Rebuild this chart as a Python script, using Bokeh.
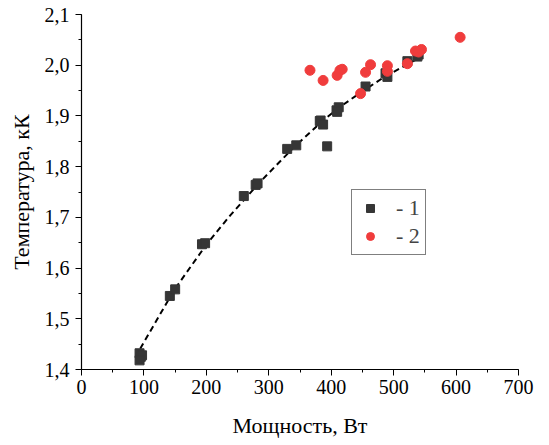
from bokeh.plotting import figure
from bokeh.models import (Range1d, SingleIntervalTicker, Legend, LegendItem,
                          CustomJSTickFormatter)
from bokeh.embed import file_html
from bokeh.resources import INLINE

# Series 1 (black squares)
s1_x = [93, 95, 97, 93, 141.5, 150, 193, 198, 260, 279, 282, 329.5, 344,
        381.7, 383, 387, 393.5, 408.5, 412, 409.5, 455, 487, 490, 522, 538, 540]
s1_y = [1.432, 1.425, 1.428, 1.418, 1.545, 1.558, 1.647, 1.649, 1.742, 1.764, 1.767,
        1.835, 1.842, 1.890, 1.891, 1.883, 1.840, 1.911, 1.917, 1.908, 1.958,
        1.984, 1.977, 2.008, 2.017, 2.021]

# Series 2 (red circles)
s2_x = [366, 387, 409.5, 414, 417.6, 447, 455, 463, 490, 490, 522, 535, 540, 544.6, 606.5]
s2_y = [1.990, 1.970, 1.980, 1.990, 1.992, 1.944, 1.986, 2.001, 1.999, 1.988,
        2.003, 2.028, 2.026, 2.031, 2.055]

# Fit curve (dashed)
fit_x = [94, 148, 201, 239, 287, 340, 386, 412, 447, 484, 527, 543]
fit_y = [1.441, 1.556, 1.648, 1.705, 1.771, 1.838, 1.890, 1.916, 1.946, 1.976, 2.005, 2.016]

FONT = "Liberation Serif"

p = figure(width=549, height=445, output_backend="svg", toolbar_location=None,
           x_range=Range1d(0, 700), y_range=Range1d(1.4, 2.1),
           min_border_left=81, min_border_right=31, min_border_top=14,
           min_border_bottom=76)
p.outline_line_color = None
p.xgrid.visible = False
p.ygrid.visible = False
p.background_fill_color = "white"
p.border_fill_color = "white"

p.line(fit_x, fit_y, line_color="black", line_width=2, line_dash="6 4")
r1 = p.scatter(s1_x, s1_y, marker="square", size=9, fill_color="#363636",
               line_color="#363636")
r2 = p.scatter(s2_x, s2_y, marker="circle", size=10, fill_color="#f03c3c",
               line_color="#f03c3c")

p.xaxis.ticker = SingleIntervalTicker(interval=100, num_minor_ticks=2)
p.yaxis.ticker = SingleIntervalTicker(interval=0.1, num_minor_ticks=2)
p.yaxis.formatter = CustomJSTickFormatter(code="return tick.toFixed(1).replace('.', ',');")

for ax in (p.xaxis[0], p.yaxis[0]):
    ax.axis_line_color = "black"
    ax.axis_line_width = 1.2
    ax.major_tick_in = 0
    ax.major_tick_out = 6
    ax.minor_tick_in = 0
    ax.minor_tick_out = 3
    ax.major_tick_line_color = "black"
    ax.minor_tick_line_color = "black"
    ax.major_label_text_font = FONT
    ax.major_label_text_font_size = "20px"
    ax.major_label_text_color = "black"
    ax.axis_label_text_font = FONT
    ax.axis_label_text_font_size = "22px"
    ax.axis_label_text_font_style = "normal"
    ax.axis_label_text_color = "black"

p.xaxis.axis_label = "Мощность, Вт"
p.yaxis.axis_label = "Температура, кК"
p.xaxis.major_label_standoff = 4
p.yaxis.major_label_standoff = 6
p.xaxis.axis_label_standoff = 16
p.yaxis.axis_label_standoff = 8

legend = Legend(items=[LegendItem(label="- 1", renderers=[r1]),
                       LegendItem(label="- 2", renderers=[r2])],
                location=(270, 114))
legend.label_text_font = FONT
legend.label_text_font_size = "22px"
legend.border_line_color = "black"
legend.border_line_width = 1
legend.glyph_width = 26
legend.glyph_height = 20
legend.label_standoff = 13
legend.padding = 5
legend.spacing = 2
legend.margin = 0
legend.background_fill_alpha = 1
p.add_layout(legend)

open("out.html", "w").write(file_html(p, INLINE))
